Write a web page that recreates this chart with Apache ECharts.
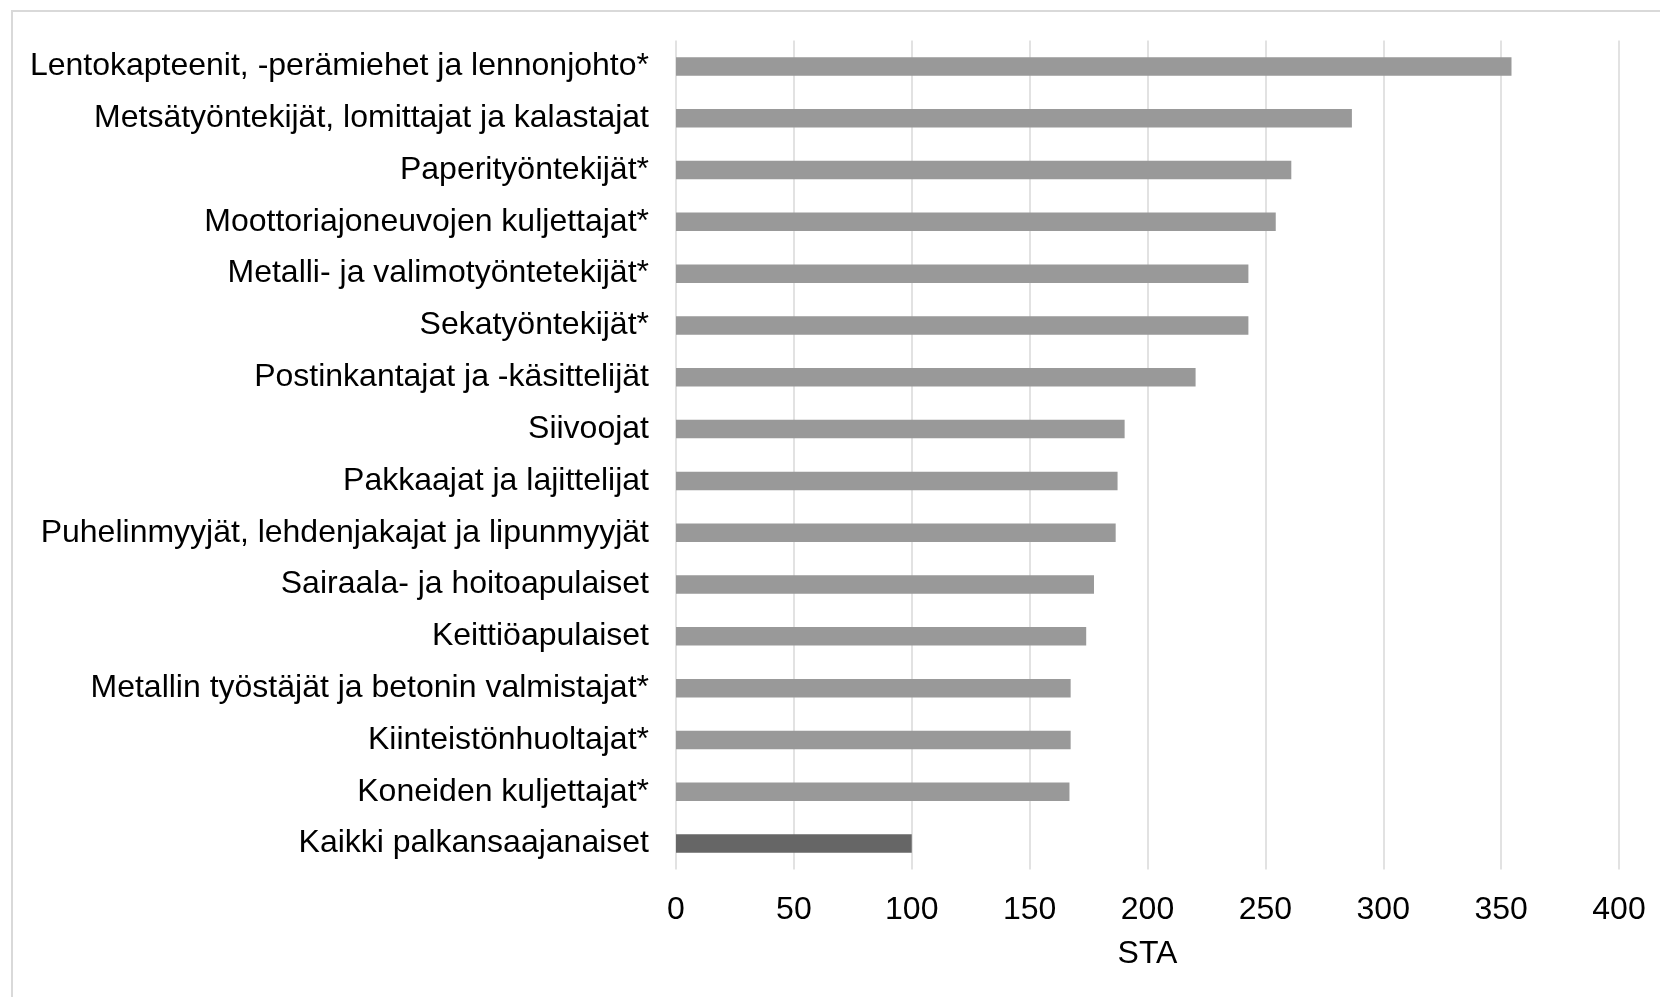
<!DOCTYPE html>
<html lang="fi">
<head>
<meta charset="utf-8">
<title>STA ammattiryhmittäin</title>
<script src="https://cdn.jsdelivr.net/npm/echarts@6/dist/echarts.min.js"></script>
<style>
  html, body { margin: 0; padding: 0; background: #ffffff; }
  #chart { width: 1660px; height: 997px; }
</style>
</head>
<body>
<div id="chart"></div>
<script>
// Ammattiryhmät ylhäältä alas
const categories = [
  'Lentokapteenit, -perämiehet ja lennonjohto*',
  'Metsätyöntekijät, lomittajat ja kalastajat',
  'Paperityöntekijät*',
  'Moottoriajoneuvojen kuljettajat*',
  'Metalli- ja valimotyöntetekijät*',
  'Sekatyöntekijät*',
  'Postinkantajat ja -käsittelijät',
  'Siivoojat',
  'Pakkaajat ja lajittelijat',
  'Puhelinmyyjät, lehdenjakajat ja lipunmyyjät',
  'Sairaala- ja hoitoapulaiset',
  'Keittiöapulaiset',
  'Metallin työstäjät ja betonin valmistajat*',
  'Kiinteistönhuoltajat*',
  'Koneiden kuljettajat*',
  'Kaikki palkansaajanaiset'
];

// Standardoitu tapaturma-aste (STA)
const staValues = [354.4, 286.7, 261, 254.4, 242.8, 242.8, 220.4, 190.3, 187.3, 186.5, 177.3, 174, 167.4, 167.4, 166.9, 100];

// Vaaka-akselin asteikko
const axisMin = 0;
const axisMax = 400;
const axisStep = 50;
const axisTitle = 'STA';

const FONT = '"Liberation Sans", Arial, sans-serif';
const FONT_SIZE = 32;
const BAR_COLOR = '#999999';
const TOTAL_COLOR = '#666666';
const GRID_COLOR = '#d9d9d9';

const chart = echarts.init(document.getElementById('chart'), null, { renderer: 'canvas' });

chart.setOption({
  animation: false,
  backgroundColor: '#ffffff',
  textStyle: { fontFamily: FONT },
  graphic: [{
    type: 'rect',
    shape: { x: 12, y: 11, width: 1700, height: 1100 },
    style: { fill: 'none', stroke: GRID_COLOR, lineWidth: 2 },
    silent: true,
    z: -10
  }],
  grid: { left: 676, right: 41, top: 40.5, bottom: 127.5, containLabel: false },
  xAxis: {
    type: 'value',
    min: axisMin,
    max: axisMax,
    interval: axisStep,
    name: axisTitle,
    nameLocation: 'middle',
    nameGap: 69,
    nameTextStyle: { color: '#000000', fontSize: FONT_SIZE, fontFamily: FONT },
    axisLine: { show: false },
    axisTick: { show: false },
    axisLabel: { color: '#000000', fontSize: FONT_SIZE, fontFamily: FONT, margin: 25 },
    splitLine: { show: true, lineStyle: { color: GRID_COLOR, width: 1.5 } }
  },
  yAxis: {
    type: 'category',
    data: categories,
    inverse: true,
    axisLine: { show: false },
    axisTick: { show: false },
    axisLabel: { color: '#000000', fontSize: FONT_SIZE, fontFamily: FONT, margin: 27 },
    splitLine: { show: false }
  },
  series: [{
    type: 'bar',
    data: staValues,
    barWidth: 18.5,
    itemStyle: {
      color: (p) => (p.dataIndex === categories.length - 1 ? TOTAL_COLOR : BAR_COLOR)
    }
  }]
});
</script>
</body>
</html>
